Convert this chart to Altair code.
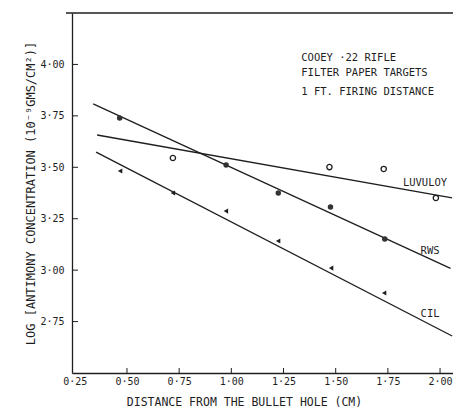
import altair as alt
import pandas as pd

# ---- data ----
rws_x = [0.465, 0.975, 1.225, 1.475, 1.735]
rws_y = [3.740, 3.511, 3.375, 3.307, 3.151]
luv_x = [0.72, 1.47, 1.73, 1.98]
luv_y = [3.545, 3.501, 3.492, 3.351]
cil_x = [0.467, 0.72, 0.974, 1.224, 1.478, 1.732]
cil_y = [3.482, 3.375, 3.287, 3.142, 3.010, 2.889]

# fitted lines (end points)
line_series = ["RWS", "RWS", "LUVULOY", "LUVULOY", "CIL", "CIL"]
line_x = [0.338, 2.050, 0.357, 2.058, 0.352, 2.058]
line_y = [3.808, 3.009, 3.657, 3.351, 3.574, 2.680]

# series labels
lab_text = ["LUVULOY", "RWS", "CIL"]
lab_x = [1.928, 1.952, 1.952]
lab_y = [3.424, 3.093, 2.787]

# annotation block
note_text = ["COOEY ·22 RIFLE", "FILTER PAPER TARGETS", "1 FT. FIRING DISTANCE"]
note_x = [1.335, 1.335, 1.335]
note_y = [4.031, 3.958, 3.866]

x_ticks = [0.25, 0.50, 0.75, 1.00, 1.25, 1.50, 1.75, 2.00]
y_ticks = [2.75, 3.00, 3.25, 3.50, 3.75, 4.00]

FONT = "DejaVu Sans Mono"
INK = "#1e1e1e"
W, H = 381, 360

xs = alt.Scale(domain=[0.2366, 2.062], nice=False, zero=False)
ys = alt.Scale(domain=[2.5, 4.25], nice=False, zero=False)

lbl = "replace(format(datum.value, '.2f'), '.', '·')"

xaxis = alt.Axis(values=x_ticks, labelExpr=lbl, ticks=False, grid=False,
                 domainColor=INK, domainWidth=1.3, labelFont=FONT, labelFontSize=10,
                 labelColor=INK, labelPadding=3,
                 title="DISTANCE FROM THE BULLET HOLE (CM)", titleFont=FONT,
                 titleFontSize=11.5, titleFontWeight="normal", titleColor=INK,
                 titleX=172, titleY=29, titleBaseline="middle", titleAlign="center")
yaxis = alt.Axis(values=y_ticks, labelExpr=lbl, ticks=False, grid=False,
                 domainColor=INK, domainWidth=1.3, labelFont=FONT, labelFontSize=10,
                 labelColor=INK, labelPadding=8,
                 title="LOG [ANTIMONY CONCENTRATION (10⁻⁹GMS/CM²)]", titleFont=FONT,
                 titleFontSize=12, titleFontWeight="normal", titleColor=INK,
                 titleX=-42, titleY=180, titleAngle=270, titleBaseline="middle",
                 titleAlign="center")

lines_df = pd.DataFrame({"series": line_series, "x": line_x, "y": line_y})
rws_df = pd.DataFrame({"x": rws_x, "y": rws_y})
luv_df = pd.DataFrame({"x": luv_x, "y": luv_y})
cil_df = pd.DataFrame({"x": cil_x, "y": cil_y})
lab_df = pd.DataFrame({"t": lab_text, "x": lab_x, "y": lab_y})
note_df = pd.DataFrame({"t": note_text, "x": note_x, "y": note_y})
xt_df = pd.DataFrame({"v": x_ticks[1:]})
yt_df = pd.DataFrame({"v": y_ticks})

lines = alt.Chart(lines_df).mark_line(color=INK, strokeWidth=1.3, clip=True).encode(
    x=alt.X("x:Q", scale=xs, axis=xaxis),
    y=alt.Y("y:Q", scale=ys, axis=yaxis),
    detail="series:N",
)
rws = alt.Chart(rws_df).mark_point(shape="circle", filled=True, size=30, color="#333", opacity=1).encode(
    x=alt.X("x:Q", scale=xs), y=alt.Y("y:Q", scale=ys))
luv = alt.Chart(luv_df).mark_point(shape="circle", filled=False, size=28, color=INK,
                                   strokeWidth=1.3, opacity=1).encode(
    x=alt.X("x:Q", scale=xs), y=alt.Y("y:Q", scale=ys))
cil = alt.Chart(cil_df).mark_point(shape="triangle-left", filled=True, size=26, color=INK, opacity=1).encode(
    x=alt.X("x:Q", scale=xs), y=alt.Y("y:Q", scale=ys))
labels = alt.Chart(lab_df).mark_text(font=FONT, fontSize=10.5, color=INK, align="center",
                                     baseline="middle").encode(
    x=alt.X("x:Q", scale=xs), y=alt.Y("y:Q", scale=ys), text="t:N")
notes = alt.Chart(note_df).mark_text(font=FONT, fontSize=10.5, color=INK, align="left",
                                     baseline="middle").encode(
    x=alt.X("x:Q", scale=xs), y=alt.Y("y:Q", scale=ys), text="t:N")
xt = alt.Chart(xt_df).mark_rule(color=INK, strokeWidth=1).encode(
    x=alt.X("v:Q", scale=xs), y=alt.value(H), y2=alt.value(H - 5))
yt = alt.Chart(yt_df).mark_rule(color=INK, strokeWidth=1).encode(
    y=alt.Y("v:Q", scale=ys), x=alt.value(0), x2=alt.value(6))
top = alt.Chart(pd.DataFrame({"a": [0]})).mark_rule(color=INK, strokeWidth=1.3).encode(
    x=alt.value(-6), x2=alt.value(W + 2), y=alt.value(0))

chart = alt.layer(lines, rws, luv, cil, labels, notes, xt, yt, top).properties(
    width=W, height=H,
    autosize=alt.AutoSizeParams(type="none"),
    padding={"left": 72, "top": 13, "right": 0, "bottom": 34},
    background="white",
).configure_view(stroke=None)

chart.save("out.html", embed_options={"renderer": "svg", "actions": False})
